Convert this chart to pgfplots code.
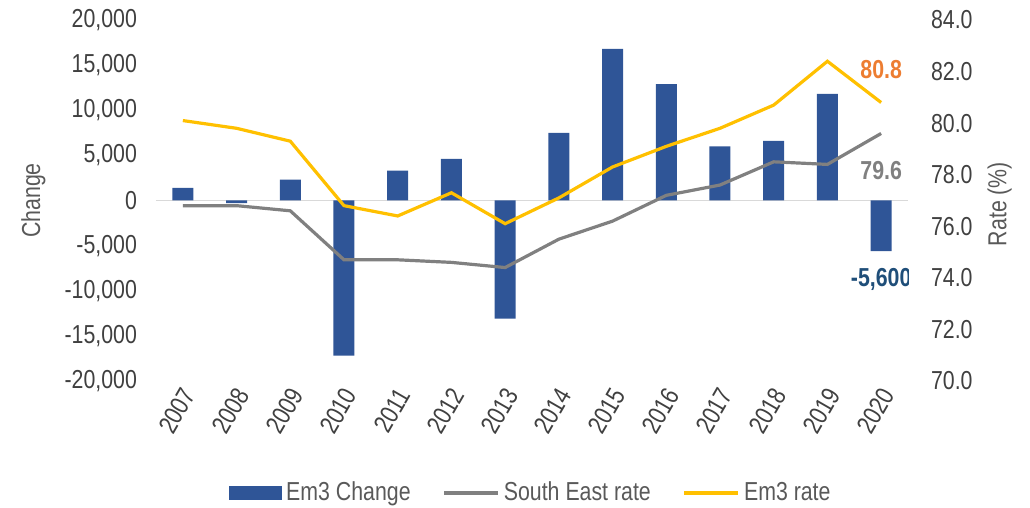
\documentclass[border=0pt]{standalone}
\usepackage{fontspec}
\setmainfont{Liberation Sans}[FakeStretch=0.82]
\usepackage{pgfplots}
\usepackage{pgfplotstable}
\pgfplotsset{compat=1.18}

\definecolor{barblue}{HTML}{2F5597}
\definecolor{segray}{HTML}{808080}
\definecolor{emyellow}{HTML}{FFC000}
\definecolor{lblorange}{HTML}{ED7D31}
\definecolor{lblblue}{HTML}{1F4E79}
\definecolor{zeroline}{HTML}{D9D9D9}
\definecolor{ticktext}{HTML}{404040}
\definecolor{labtext}{HTML}{595959}

\newcommand\cf{\fontsize{13}{15.6}\selectfont}

% year, Em3 change, South East rate, Em3 rate
\pgfplotstableread{
year change se em
2007 1400 76.8 80.1
2008 -300 76.8 79.8
2009 2300 76.6 79.3
2010 -17200 74.7 76.8
2011 3300 74.7 76.4
2012 4600 74.6 77.3
2013 -13100 74.4 76.1
2014 7500 75.5 77.1
2015 16800 76.2 78.3
2016 12900 77.2 79.1
2017 6000 77.6 79.8
2018 6600 78.5 80.7
2019 11800 78.4 82.4
2020 -5600 79.6 80.8
}\datatable

\begin{document}
\begin{tikzpicture}[font=\cf]
\pgfplotsset{
  base/.style={
    scale only axis, width=376pt, height=180.5pt,
    xmin=2006.5, xmax=2020.5,
    major tick length=0pt,
    axis line style={draw=none},
    tick label style={font=\cf, text=ticktext},
    label style={font=\cf, text=labtext},
    /pgf/number format/assume math mode=true,
  },
}
\begin{axis}[base, name=ax,
  ymin=-20000, ymax=20000,
  ytick={-20000,-15000,...,20000},
  scaled y ticks=false,
  axis y line*=left, axis x line*=bottom,
  y tick label style={/pgf/number format/fixed, /pgf/number format/1000 sep={,}, xshift=-6pt},
  xtick={2007,...,2020},
  x tick label style={/pgf/number format/1000 sep={}, rotate=60, anchor=east, yshift=-5pt, xshift=1pt},
  ylabel={Change},
  ylabel style={at={(axis description cs:-0.163,0.5)}, anchor=center},
  ybar, bar width=10.5pt,
]
\draw[zeroline, line width=0.8pt] (rel axis cs:0,0.5) -- (rel axis cs:1,0.5);
\addplot[fill=barblue, draw=none] table[x=year, y=change] {\datatable};
\end{axis}

\begin{axis}[base,
  ymin=70, ymax=84,
  ytick={70,72,...,84},
  axis y line*=right, axis x line=none,
  y tick label style={/pgf/number format/fixed, /pgf/number format/fixed zerofill,
    /pgf/number format/precision=1, xshift=8pt},
  ylabel={Rate (\%)},
  ylabel style={at={(axis description cs:1.122,0.49)}, anchor=center, rotate=0},
  legend columns=3,
  legend style={at={(rel axis cs:0.5,-0.31)}, anchor=center, draw=none, fill=none,
    font=\cf, text=labtext,
    /tikz/every even column/.append style={column sep=14pt},
    nodes={inner xsep=2pt}},
  legend cell align=left,
]
\addlegendimage{legend image code/.code={\fill[barblue] (0pt,-3.25pt) rectangle (26pt,3.25pt);}}
\addlegendentry{Em3 Change}
\addplot[segray, line width=1.6pt, legend image code/.code={\draw[segray, line width=1.6pt] (0pt,0pt) -- (27pt,0pt);}]
  table[x=year, y=se] {\datatable};
\addlegendentry{South East rate}
\addplot[emyellow, line width=1.6pt, legend image code/.code={\draw[emyellow, line width=1.6pt] (0pt,0pt) -- (27pt,0pt);}]
  table[x=year, y=em] {\datatable};
\addlegendentry{Em3 rate}
\node[text=lblorange, font=\cf\bfseries] at (axis cs:2020,82.06) {80.8};
\node[text=segray, font=\cf\bfseries] at (axis cs:2020,78.18) {79.6};
\node[text=lblblue, font=\cf\bfseries] at (axis cs:2020,73.92) {-5,600};
\end{axis}
\pgfresetboundingbox
\useasboundingbox (-78pt,-63.5pt) rectangle (437pt,190.5pt);
\end{tikzpicture}
\end{document}
